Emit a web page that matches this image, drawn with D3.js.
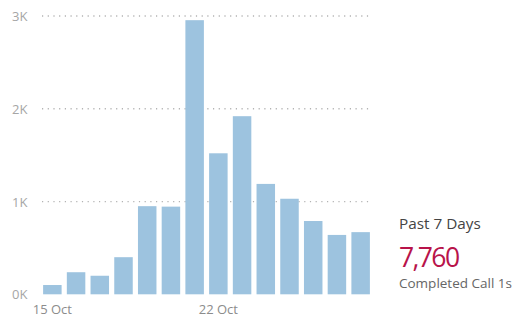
<!DOCTYPE html>
<html>
<head>
<meta charset="utf-8">
<script src="https://cdn.jsdelivr.net/npm/d3@7"></script>
<style>
  body { margin: 0; background: #fff; }
  svg { display: block; font-family: "Open Sans", "Noto Sans", sans-serif; }
</style>
</head>
<body>
<svg></svg>
<script>
const days = ['15 Oct','16 Oct','17 Oct','18 Oct','19 Oct','20 Oct','21 Oct',
              '22 Oct','23 Oct','24 Oct','25 Oct','26 Oct','27 Oct','28 Oct'];
const calls = [100, 238, 200, 400, 950, 945, 2955, 1520, 1920, 1190, 1030, 790, 640, 670];
const yTicks = [0, 1000, 2000, 3000];
const xLabels = ['15 Oct', '22 Oct'];
const cardTitle = 'Past 7 Days';
const cardValue = d3.sum(calls.slice(-7));
const cardCaption = 'Completed Call 1s';

function createElements() {
    const width = 517, height = 318;
    const svg = d3.select('svg')
        .attr('width', width)
        .attr('height', height);

    const x = d3.scaleBand()
        .domain(days)
        .range([40.5, 372.5])
        .paddingInner(0.22)
        .paddingOuter(0.11);

    const y = d3.scaleLinear()
        .domain([0, 3000])
        .range([294.3, 16]);

    // dotted gridlines
    svg.append('g')
        .selectAll('line')
        .data(yTicks.filter(d => d > 0))
        .join('line')
        .attr('x1', 42)
        .attr('x2', 372)
        .attr('y1', d => y(d))
        .attr('y2', d => y(d))
        .attr('stroke', '#b3b3b3')
        .attr('stroke-width', 1.3)
        .attr('stroke-dasharray', '1.2,4.5');

    // y labels
    svg.append('g')
        .selectAll('text')
        .data(yTicks)
        .join('text')
        .attr('x', 12)
        .attr('y', d => y(d) + 5)
        .attr('fill', '#a6a6a6')
        .attr('font-size', 13)
        .text(d => d3.format('d')(d / 1000) + 'K');

    // bars
    svg.append('g')
        .selectAll('rect')
        .data(calls)
        .join('rect')
        .attr('x', (d, i) => x(days[i]))
        .attr('y', d => y(d))
        .attr('width', x.bandwidth())
        .attr('height', d => y(0) - y(d))
        .attr('fill', '#9dc3df');

    // x labels
    svg.append('g')
        .selectAll('text')
        .data(xLabels)
        .join('text')
        .attr('x', d => x(d) + x.bandwidth() / 2)
        .attr('y', 314)
        .attr('text-anchor', 'middle')
        .attr('fill', '#8c8c8c')
        .attr('font-size', 13)
        .text(d => d);

    // card
    const card = svg.append('g').attr('transform', 'translate(399,0)');
    card.append('text')
        .attr('y', 229)
        .attr('fill', '#444')
        .attr('font-size', 15.3)
        .text(cardTitle);
    card.append('text')
        .attr('y', 267)
        .attr('fill', '#b8134a')
        .attr('font-size', 26.5)
        .attr('letter-spacing', -1.6)
        .text(d3.format(',')(cardValue));
    card.append('text')
        .attr('y', 288)
        .attr('fill', '#666')
        .attr('font-size', 13.5)
        .text(cardCaption);
}

createElements();
</script>
</body>
</html>
